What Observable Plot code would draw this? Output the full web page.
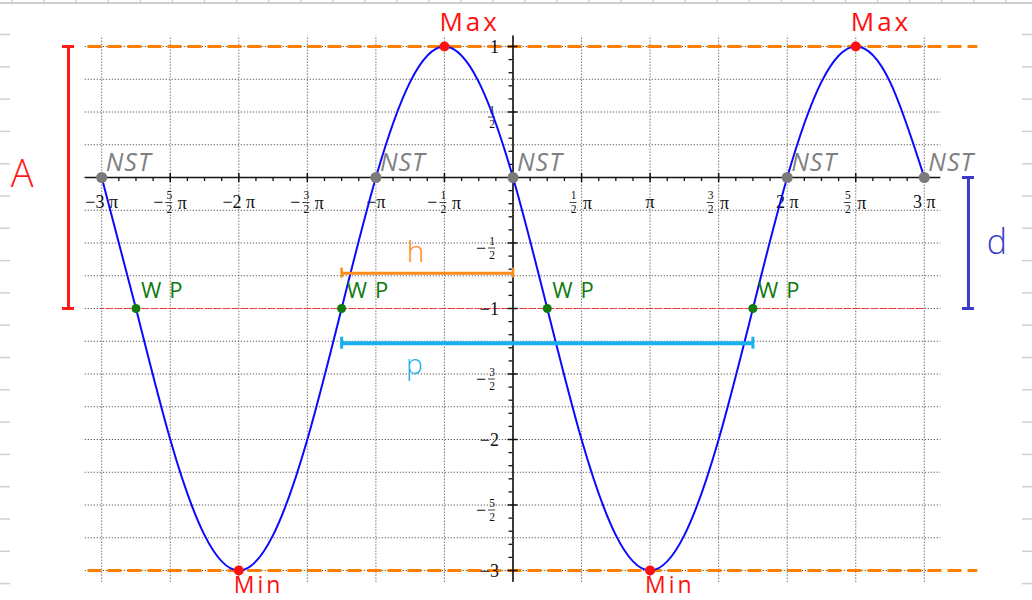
<!DOCTYPE html>
<html>
<head>
<meta charset="utf-8">
<script src="https://cdn.jsdelivr.net/npm/d3@7"></script>
<script src="https://cdn.jsdelivr.net/npm/@observablehq/plot@0.6"></script>
<style>
  html, body { margin: 0; padding: 0; background: #fff; }
  #chart { position: relative; width: 1032px; height: 600px; overflow: hidden; background: #fff; }
  #chart svg { position: absolute; left: 0; top: 0; }
</style>
</head>
<body>
<div id="chart"></div>
<script>
// ---- function graph: x in multiples of π, y in units ----
const curveX = [-3, -2.75, -2.5, -2.25, -2, -1.75, -1.5, -1.25, -1, -0.75, -0.5, -0.25, 0,
                0.25, 0.5, 0.75, 1, 1.25, 1.5, 1.75, 2, 2.25, 2.5, 2.75, 3];
const curveY = [0, -1, -2, -2.73, -3, -2.73, -2, -1, 0, 0.73, 1, 0.73, 0,
                -1, -2, -2.73, -3, -2.73, -2, -1, 0, 0.73, 1, 0.73, 0];

// characteristic points
const maxX = [-0.5, 2.5];      // Max, y = 1
const minX = [-2, 1];          // Min, y = -3
const zeroX = [-3, -1, 0, 2, 3]; // NST, y = 0
const wpX = [-2.75, -1.25, 0.25, 1.75]; // WP, y = -1
const maxLevel = 1, minLevel = -3, midLevel = -1;

// axis labels
const xTickValues = [-3, -2.5, -2, -1.5, -1, -0.5, 0.5, 1, 1.5, 2, 2.5, 3];
const yTickValues = [1, 0.5, -0.5, -1, -1.5, -2, -2.5, -3];

// brackets: amplitude A, shift d, h, period p
const bracketA = {x: -3.242, y1: 1, y2: -1};
const bracketD = {x: 3.322, y1: 0, y2: -1};
const bracketH = {x1: -1.25, x2: 0, y: -0.73};
const bracketP = {x1: -1.25, x2: 1.75, y: -1.265};
const notes = [
  {text: "A", x: -3.58, y: 0.02, color: "#ff1a1a", size: 38},
  {text: "d", x: 3.53, y: -0.5, color: "#3a3ac8", size: 34},
  {text: "h", x: -0.71, y: -0.57, color: "#ff8c1a", size: 30},
  {text: "p", x: -0.72, y: -1.43, color: "#1ab0f0", size: 28}
];

// ---- scale geometry ----
const W = 1032, H = 600;
const PX_PER_PI = 137.1, PX_PER_UNIT = 131;
const OX = 512.5, OY = 177;
const xDomain = [-OX / PX_PER_PI, (W - OX) / PX_PER_PI];
const yDomain = [-(H - OY) / PX_PER_UNIT, OY / PX_PER_UNIT];
const pxX = p => p / PX_PER_PI;   // pixel length -> x units
const pxY = p => p / PX_PER_UNIT; // pixel length -> y units

const gridXExtent = [-3.12, 3.12];
const gridYExtent = [-3.09, 1.08];

const serif = "'Liberation Serif', 'DejaVu Serif', serif";
const hand = "'Open Sans', 'Noto Sans', sans-serif";

const curve = curveX.map((x, i) => ({x, y: curveY[i]}));
const pts = (xs, y) => xs.map(x => ({x, y}));

// grid and ticks
const gridV = d3.range(-3, 3.001, 0.5);
const gridH = d3.range(-3, 1.001, 0.25);
const xMinor = d3.range(-24, 25).map(k => k / 8).filter(v => v % 0.5 !== 0);
const xMajor = d3.range(-6, 7).map(k => k / 2).filter(v => v !== 0);
const yMinor = d3.range(-30, 11).map(k => k / 10).filter(v => Math.abs(v * 2 - Math.round(v * 2)) > 1e-9);
const yMajor = d3.range(-6, 3).map(k => k / 2).filter(v => v !== 0);

// tick label parts (stacked fractions for the halves)
const isInt = v => Math.abs(v - Math.round(v)) < 1e-9;
const xInt = xTickValues.filter(isInt).map(v => {
  const a = Math.abs(v);
  return {v, label: (v < 0 ? "\u2212" : "") + (a === 1 ? "" : a + " ") + "\u03c0"};
});
const xHalf = xTickValues.filter(v => !isInt(v)).map(v => ({
  v, neg: v < 0, sign: v < 0 ? "\u2212" : "", num: String(Math.abs(v) * 2), den: "2"
}));
// horizontal layout of "−n/2 π" around its tick, in pixels
const fracOff = d => d.neg ? -1 : -8;
const piOff = d => d.neg ? 12 : 6;
const yInt = yTickValues.filter(isInt).map(v => ({v, label: (v < 0 ? "\u2212" : "") + Math.abs(v)}));
const yHalf = yTickValues.filter(v => !isInt(v)).map(v => ({
  v, sign: v < 0 ? "\u2212" : "", num: String(Math.abs(v) * 2), den: "2"
}));

const axisText = {fontFamily: serif, fill: "#111"};

const main = Plot.plot({
  width: W, height: H, margin: 0,
  x: {domain: xDomain, axis: null},
  y: {domain: yDomain, axis: null},
  style: {background: "transparent", overflow: "visible"},
  marks: [
    // dotted grid
    Plot.ruleY(gridH, {x1: gridXExtent[0], x2: gridXExtent[1], stroke: "#555", strokeWidth: 1, strokeDasharray: "1.2,1.8"}),
    Plot.ruleX(gridV, {y1: gridYExtent[0], y2: gridYExtent[1], stroke: "#555", strokeWidth: 1, strokeDasharray: "1.2,1.8"}),

    // Max / Min levels and midline
    Plot.ruleY([maxLevel, minLevel], {x1: -3.10, x2: 3.39, stroke: "#ff8000", strokeWidth: 3, strokeDasharray: "14,6"}),
    Plot.ruleY([midLevel], {x1: -3, x2: 3, stroke: "#ff2020", strokeWidth: 1, strokeDasharray: "3,1.5"}),

    // axes
    Plot.ruleY([0], {x1: gridXExtent[0], x2: gridXExtent[1], stroke: "#111", strokeWidth: 1.6}),
    Plot.ruleX([0], {y1: gridYExtent[0], y2: gridYExtent[1], stroke: "#111", strokeWidth: 1.6}),
    Plot.ruleX(xMinor, {y1: -pxY(4), y2: 0, stroke: "#111", strokeWidth: 1.3}),
    Plot.ruleX(xMajor, {y1: -pxY(5), y2: pxY(4), stroke: "#111", strokeWidth: 1.5}),
    Plot.ruleY(yMinor, {x1: -pxX(4), x2: 0, stroke: "#111", strokeWidth: 1.3}),
    Plot.ruleY(yMajor, {x1: -pxX(5), x2: pxX(5), stroke: "#111", strokeWidth: 1.5}),

    // x tick labels
    Plot.text(xInt, {x: "v", y: 0, text: "label", dy: 25, fontSize: 18, ...axisText}),
    Plot.text(xHalf, {x: d => d.v - pxX(12), y: 0, text: "sign", dy: 25, fontSize: 18, ...axisText}),
    Plot.text(xHalf, {x: d => d.v + pxX(fracOff(d)), y: 0, text: "num", dy: 18, fontSize: 11.5, ...axisText}),
    Plot.text(xHalf, {x: d => d.v + pxX(fracOff(d)), y: 0, text: "den", dy: 32, fontSize: 11.5, ...axisText}),
    Plot.ruleY(xHalf, {x1: d => d.v + pxX(fracOff(d) - 3.5), x2: d => d.v + pxX(fracOff(d) + 3.5), y: -pxY(25), stroke: "#111", strokeWidth: 0.8}),
    Plot.text(xHalf, {x: d => d.v + pxX(piOff(d)), y: 0, text: () => "\u03c0", dy: 26, fontSize: 18, ...axisText}),

    // y tick labels
    Plot.text(yInt, {x: 0, y: "v", text: "label", dx: -14, dy: 1, textAnchor: "end", fontSize: 18, ...axisText}),
    Plot.text(yHalf, {x: 0, y: "v", text: "sign", dx: -32, dy: 5, fontSize: 18, ...axisText}),
    Plot.text(yHalf, {x: 0, y: "v", text: "num", dx: -21, dy: -2, fontSize: 11.5, ...axisText}),
    Plot.text(yHalf, {x: 0, y: "v", text: "den", dx: -21, dy: 12, fontSize: 11.5, ...axisText}),
    Plot.ruleY(yHalf, {x1: -pxX(24.5), x2: -pxX(17.5), y: d => d.v - pxY(5), stroke: "#111", strokeWidth: 0.8}),

    // the graph
    Plot.line(curve, {x: "x", y: "y", stroke: "#0a0aff", strokeWidth: 2, curve: "natural"}),

    // brackets
    Plot.ruleX([bracketA], {x: "x", y1: "y1", y2: "y2", stroke: "#ff1a1a", strokeWidth: 3}),
    Plot.ruleY([bracketA.y1, bracketA.y2], {x1: bracketA.x - pxX(6), x2: bracketA.x + pxX(6), stroke: "#ff1a1a", strokeWidth: 3}),
    Plot.ruleX([bracketD], {x: "x", y1: "y1", y2: "y2", stroke: "#3a3ac8", strokeWidth: 3}),
    Plot.ruleY([bracketD.y1, bracketD.y2], {x1: bracketD.x - pxX(6), x2: bracketD.x + pxX(6), stroke: "#3a3ac8", strokeWidth: 3}),
    Plot.ruleY([bracketH], {x1: "x1", x2: "x2", y: "y", stroke: "#ff8c1a", strokeWidth: 3}),
    Plot.ruleX([bracketH.x1, bracketH.x2], {y1: bracketH.y - pxY(5), y2: bracketH.y + pxY(5), stroke: "#ff8c1a", strokeWidth: 2.5}),
    Plot.ruleY([bracketP], {x1: "x1", x2: "x2", y: "y", stroke: "#1ab0f0", strokeWidth: 4}),
    Plot.ruleX([bracketP.x1, bracketP.x2], {y1: bracketP.y - pxY(6), y2: bracketP.y + pxY(6), stroke: "#1ab0f0", strokeWidth: 3}),
    Plot.text(notes, {x: "x", y: "y", text: "text", fill: "color", fontSize: "size", fontFamily: hand, fontWeight: 300}),

    // characteristic points
    Plot.dot(pts(zeroX, 0), {x: "x", y: "y", r: 5.5, fill: "#7a7a7a"}),
    Plot.dot(pts(wpX, midLevel), {x: "x", y: "y", r: 4.5, fill: "#0f7a0f"}),
    Plot.dot(pts(maxX, maxLevel), {x: "x", y: "y", r: 5, fill: "#ff1010"}),
    Plot.dot(pts(minX, minLevel), {x: "x", y: "y", r: 5, fill: "#ff1010"}),

    // point labels
    Plot.text(pts(maxX, maxLevel), {x: "x", y: "y", text: () => "Max", dx: -5, dy: -24, textAnchor: "start", fill: "#ff1010", fontSize: 26, fontFamily: hand}),
    Plot.text(pts(minX, minLevel), {x: "x", y: "y", text: () => "Min", dx: -5, dy: 15, textAnchor: "start", fill: "#ff1010", fontSize: 23, fontFamily: hand}),
    Plot.text(pts(zeroX, 0), {x: "x", y: "y", text: () => "NST", dx: 4, dy: -15, textAnchor: "start", fill: "#808080", fontSize: 25, fontFamily: hand, fontStyle: "italic"}),
    Plot.text(pts(wpX, midLevel), {x: "x", y: "y", text: () => "WP", dx: 5, dy: -18, textAnchor: "start", fill: "#0f7a0f", fontSize: 22, fontFamily: hand})
  ]
});

// loose, hand-lettered spacing for the point labels
const spacing = {Max: 3, Min: 3, NST: 1, WP: 8};
d3.select(main).selectAll("text")
  .filter(function () { return this.textContent in spacing; })
  .attr("letter-spacing", function () { return spacing[this.textContent]; });

// light page ruler along the edges
const rulerRows = d3.range(34, H, 32.3);
const rulerCols = d3.range(11.7, W, 32.05);
const ruler = Plot.plot({
  width: W, height: H, margin: 0,
  x: {domain: [0, W], range: [0, W], axis: null},
  y: {domain: [0, H], range: [0, H], axis: null},
  style: {background: "transparent"},
  marks: [
    Plot.ruleY([2.5], {x1: 0, x2: W, stroke: "#cfcfcf", strokeWidth: 2}),
    Plot.ruleX(rulerCols, {y1: 0, y2: 3, stroke: "#cfcfcf", strokeWidth: 1.5}),
    Plot.ruleY(rulerRows, {x1: 0, x2: 10, stroke: "#cfcfcf", strokeWidth: 1.5}),
    Plot.ruleY(rulerRows, {x1: W - 10, x2: W, stroke: "#cfcfcf", strokeWidth: 1.5})
  ]
});

const chart = document.getElementById("chart");
chart.append(ruler, main);
</script>
</body>
</html>
